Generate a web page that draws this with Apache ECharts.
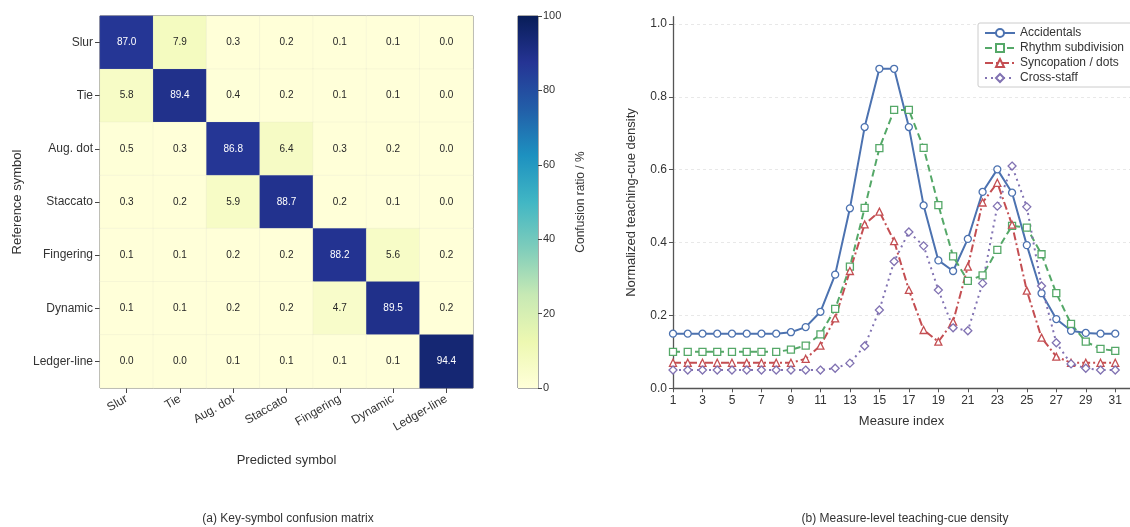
<!DOCTYPE html>
<html>
<head>
<meta charset="utf-8">
<script src="https://cdn.jsdelivr.net/npm/echarts@6/dist/echarts.min.js"></script>
<style>html,body{margin:0;padding:0;background:#fff}#c{width:1130px;height:527px}</style>
</head>
<body>
<div id="c"></div>
<script>
// ---------- data ----------
const symbols = ['Slur', 'Tie', 'Aug. dot', 'Staccato', 'Fingering', 'Dynamic', 'Ledger-line'];
const rowSlur      = [87.0, 7.9, 0.3, 0.2, 0.1, 0.1, 0.0];
const rowTie       = [5.8, 89.4, 0.4, 0.2, 0.1, 0.1, 0.0];
const rowAugDot    = [0.5, 0.3, 86.8, 6.4, 0.3, 0.2, 0.0];
const rowStaccato  = [0.3, 0.2, 5.9, 88.7, 0.2, 0.1, 0.0];
const rowFingering = [0.1, 0.1, 0.2, 0.2, 88.2, 5.6, 0.2];
const rowDynamic   = [0.1, 0.1, 0.2, 0.2, 4.7, 89.5, 0.2];
const rowLedger    = [0.0, 0.0, 0.1, 0.1, 0.1, 0.1, 94.4];
const colorbarTicks = [0, 20, 40, 60, 80, 100];

const measures = [1,2,3,4,5,6,7,8,9,10,11,12,13,14,15,16,17,18,19,20,21,22,23,24,25,26,27,28,29,30,31];
const accidentals = [0.15,0.15,0.15,0.15,0.15,0.15,0.15,0.15,0.154,0.168,0.21,0.312,0.494,0.717,0.877,0.877,0.717,0.502,0.351,0.322,0.41,0.539,0.601,0.537,0.393,0.261,0.19,0.158,0.152,0.15,0.15];
const rhythm = [0.10,0.10,0.10,0.10,0.10,0.10,0.10,0.10,0.106,0.117,0.148,0.218,0.334,0.495,0.659,0.764,0.764,0.66,0.503,0.362,0.295,0.31,0.38,0.446,0.441,0.368,0.261,0.177,0.128,0.108,0.103];
const syncopation = [0.07,0.07,0.07,0.07,0.07,0.07,0.07,0.07,0.07,0.081,0.117,0.192,0.322,0.45,0.485,0.404,0.27,0.16,0.128,0.183,0.334,0.51,0.564,0.449,0.268,0.139,0.087,0.07,0.07,0.07,0.07];
const crossStaff = [0.05,0.05,0.05,0.05,0.05,0.05,0.05,0.05,0.05,0.05,0.05,0.055,0.069,0.116,0.215,0.348,0.429,0.391,0.27,0.166,0.158,0.288,0.5,0.61,0.498,0.281,0.125,0.067,0.055,0.05,0.05];
const xTicks = [1,3,5,7,9,11,13,15,17,19,21,23,25,27,29,31];
const yTicks = [0, 0.2, 0.4, 0.6, 0.8, 1.0];

// ---------- build ----------
const rows = [rowSlur, rowTie, rowAugDot, rowStaccato, rowFingering, rowDynamic, rowLedger];
const heatData = [];
rows.forEach((r, yi) => r.forEach((v, xi) => {
  heatData.push({ value: [xi, yi, v], label: { color: v > 50 ? '#ffffff' : '#262626' } });
}));
const ylgnbu = ['#ffffd9','#edf8b1','#c7e9b4','#7fcdbb','#41b6c4','#1d91c0','#225ea8','#253494','#081d58'];
const FONT = '"Liberation Sans", Arial, sans-serif';
const TXT = '#333333';

const chart = echarts.init(document.getElementById('c'), null, { renderer: 'canvas' });

function lineSeries(name, data, color, symbol, type) {
  return {
    name, type: 'line', xAxisIndex: 2, yAxisIndex: 2,
    data: measures.map((m, i) => [m, data[i]]),
    symbol, symbolSize: symbol === 'diamond' ? 8 : 7,
    showAllSymbol: true,
    lineStyle: { color, width: 2, type },
    itemStyle: { color: '#ffffff', borderColor: color, borderWidth: 1.3 },
    emphasis: { disabled: true },
    z: 3
  };
}

const option = {
  animation: false,
  textStyle: { fontFamily: FONT },
  grid: [
    { left: 100, top: 16, width: 373, height: 372, show: true, borderColor: '#555', borderWidth: 1, backgroundColor: 'transparent' },
    { left: 518, top: 16, width: 20, height: 372, show: true, borderColor: '#555', borderWidth: 1 },
    { left: 673, top: 16.7, right: -5.6, height: 371.6 }
  ],
  xAxis: [
    { gridIndex: 0, type: 'category', data: symbols,
      axisLine: { show: false }, splitLine: { show: false },
      axisTick: { show: true, alignWithLabel: true, length: 5, lineStyle: { color: '#444' } },
      axisLabel: { rotate: 30, color: TXT, fontSize: 12, margin: 10, fontFamily: FONT },
      name: 'Predicted symbol', nameLocation: 'middle', nameGap: 66,
      nameTextStyle: { color: TXT, fontSize: 13, fontFamily: FONT } },
    { gridIndex: 1, type: 'category', data: ['c'], show: false },
    { gridIndex: 2, type: 'value', min: 1, max: 32, interval: 2,
      axisLine: { show: true, onZero: false, lineStyle: { color: '#555', width: 1.3 } },
      axisTick: { show: true, length: 4, lineStyle: { color: '#555' }, customValues: xTicks },
      axisLabel: { color: TXT, fontSize: 12, margin: 6, fontFamily: FONT, customValues: xTicks },
      splitLine: { show: false },
      name: 'Measure index', nameLocation: 'middle', nameGap: 27,
      nameTextStyle: { color: TXT, fontSize: 13, fontFamily: FONT } }
  ],
  yAxis: [
    { gridIndex: 0, type: 'category', data: symbols, inverse: true,
      axisLine: { show: false }, splitLine: { show: false },
      axisTick: { show: true, alignWithLabel: true, length: 5, lineStyle: { color: '#444' } },
      axisLabel: { color: TXT, fontSize: 12, margin: 7, fontFamily: FONT },
      name: 'Reference symbol', nameLocation: 'middle', nameGap: 76, nameRotate: 90,
      nameTextStyle: { color: TXT, fontSize: 13, fontFamily: FONT } },
    { gridIndex: 1, type: 'value', min: 0, max: 100, interval: 20, position: 'right',
      axisLine: { show: false }, splitLine: { show: false },
      axisTick: { show: true, length: 4, lineStyle: { color: '#444' } },
      axisLabel: { color: TXT, fontSize: 11, margin: 5, fontFamily: FONT, formatter: v => colorbarTicks.includes(v) ? String(v) : '' },
      name: 'Confusion ratio / %', nameLocation: 'middle', nameGap: 37, nameRotate: 90,
      nameTextStyle: { color: TXT, fontSize: 12, fontFamily: FONT } },
    { gridIndex: 2, type: 'value', min: 0, max: 1.02,
      axisLine: { show: true, onZero: false, lineStyle: { color: '#555', width: 1.3 } },
      axisTick: { show: true, length: 4, lineStyle: { color: '#555' }, customValues: yTicks },
      axisLabel: { color: TXT, fontSize: 12, margin: 6, fontFamily: FONT, customValues: yTicks, formatter: v => v.toFixed(1) },
      splitLine: { show: true, lineStyle: { color: '#e3e3e3', type: [3, 3], width: 0.8 } },
      name: 'Normalized teaching-cue density', nameLocation: 'middle', nameGap: 35, nameRotate: 90,
      nameTextStyle: { color: TXT, fontSize: 13, fontFamily: FONT } }
  ],
  visualMap: [{
    type: 'continuous', min: 0, max: 100, show: false, seriesIndex: 0, dimension: 2,
    inRange: { color: ylgnbu }
  }],
  legend: {
    data: ['Accidentals', 'Rhythm subdivision', 'Syncopation / dots', 'Cross-staff'],
    orient: 'vertical', left: 978, top: 23,
    itemWidth: 30, itemHeight: 10, itemGap: 3,
    backgroundColor: '#ffffff', borderColor: '#cccccc', borderWidth: 1, borderRadius: 2,
    padding: [4, 60, 3, 6],
    textStyle: { color: TXT, fontSize: 12, fontFamily: FONT, lineHeight: 10 },
    selectedMode: false
  },
  series: [
    { type: 'heatmap', xAxisIndex: 0, yAxisIndex: 0, data: heatData,
      label: { show: true, fontSize: 10, fontFamily: FONT, formatter: p => p.value[2].toFixed(1) },
      itemStyle: { borderColor: 'rgba(200,200,200,0.25)', borderWidth: 0.5 },
      emphasis: { disabled: true } },
    { type: 'bar', xAxisIndex: 1, yAxisIndex: 1, data: [100], barWidth: '100%', silent: true,
      itemStyle: { color: new echarts.graphic.LinearGradient(0, 1, 0, 0,
        ylgnbu.map((c, i) => ({ offset: i / (ylgnbu.length - 1), color: c }))) } },
    lineSeries('Accidentals', accidentals, '#4c72b0', 'circle', 'solid'),
    lineSeries('Rhythm subdivision', rhythm, '#55a868', 'rect', [7, 4]),
    lineSeries('Syncopation / dots', syncopation, '#c44e52', 'triangle', [8, 3, 2, 3]),
    lineSeries('Cross-staff', crossStaff, '#8172b2', 'diamond', [2, 4])
  ],
  graphic: [
    { type: 'text', style: { text: '(a) Key-symbol confusion matrix', x: 288, y: 519, align: 'center', verticalAlign: 'middle', fill: TXT, font: '12px ' + FONT } },
    { type: 'text', style: { text: '(b) Measure-level teaching-cue density', x: 905, y: 519, align: 'center', verticalAlign: 'middle', fill: TXT, font: '12px ' + FONT } }
  ]
};
chart.setOption(option);
</script>
</body>
</html>
